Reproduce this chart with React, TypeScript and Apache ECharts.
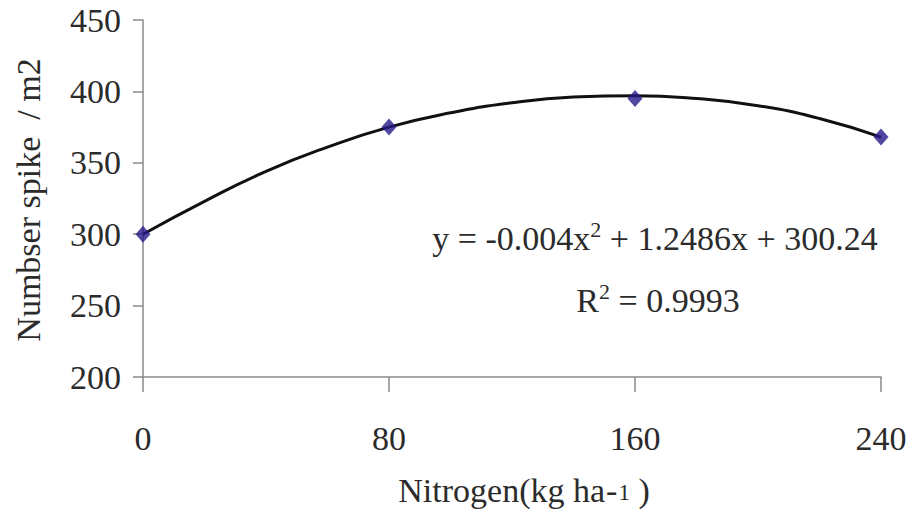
import React, { useEffect, useRef } from "react";
import * as echarts from "echarts";

const xTicks = [0, 80, 160, 240];
const observedX = [0, 80, 160, 240];
const observedY = [300, 375, 395, 368];
const curveX = [0, 20, 40, 60, 80, 100, 120, 140, 160, 180, 200, 220, 240];
const curveY = [300, 323, 344, 361, 375, 385, 392, 396, 397, 395, 390, 381, 368];
const yTitle = "Numbser spike  / m2";
const xTitle = "Nitrogen(kg ha";
const equationText = "y = -0.004x";
const equationRest = " + 1.2486x + 300.24";
const r2Value = " = 0.9993";

const FONT = "Liberation Serif";
const TXT = "#2b2b2b";

const n = { fontFamily: FONT, fontSize: 34, fill: TXT, color: TXT };
const sup = { fontFamily: FONT, fontSize: 22, fill: TXT, color: TXT, padding: [0, 0, 18, 0] };
const dash = { fontFamily: FONT, fontSize: 34, fill: TXT, color: TXT, padding: [0, 1, 0, 1] };
const sub = { fontFamily: FONT, fontSize: 23, fill: TXT, color: TXT, padding: [5, 0, 0, 0] };

export default function App() {
  const ref = useRef<HTMLDivElement>(null);
  useEffect(() => {
    if (!ref.current) return;
    const chart = echarts.init(ref.current, null, { renderer: "svg" });
    chart.setOption({
      animation: false,
      textStyle: { fontFamily: FONT },
      grid: { left: 143, right: 35, top: 20, bottom: 133 },
      xAxis: {
        type: "value",
        min: 0,
        max: 240,
        interval: 80,
        axisLine: { show: true, lineStyle: { color: "#8a8a8a", width: 1.5 } },
        axisTick: { show: true, length: 15, lineStyle: { color: "#8a8a8a", width: 1.5 } },
        splitLine: { show: false },
        axisLabel: {
          margin: 44,
          fontFamily: FONT,
          fontSize: 34,
          color: TXT,
          formatter: (v: number) => (xTicks.includes(v) ? String(v) : ""),
        },
      },
      yAxis: {
        type: "value",
        min: 200,
        max: 450,
        interval: 50,
        axisLine: { show: true, lineStyle: { color: "#8a8a8a", width: 1.5 } },
        axisTick: { show: true, length: 10, lineStyle: { color: "#8a8a8a", width: 1.5 } },
        splitLine: { show: false },
        axisLabel: { margin: 22, fontFamily: FONT, fontSize: 34, color: TXT },
      },
      series: [
        {
          type: "line",
          data: curveX.map((x, i) => [x, curveY[i]]),
          smooth: 0.5,
          showSymbol: false,
          symbol: "none",
          lineStyle: { color: "#111", width: 3 },
          z: 2,
        },
        {
          type: "scatter",
          data: observedX.map((x, i) => [x, observedY[i]]),
          symbol: "diamond",
          symbolSize: [15, 17],
          itemStyle: { color: "#26198a" },
          z: 3,
        },
      ],
      graphic: [
        {
          type: "text",
          x: 28,
          y: 200,
          rotation: Math.PI / 2,
          style: {
            text: yTitle,
            fontFamily: FONT,
            fontSize: 34,
            fill: TXT,
            align: "center",
            verticalAlign: "middle",
          },
        },
        {
          type: "text",
          x: 524,
          y: 490,
          style: {
            text: `{n|${xTitle}}{d|-}{s|1}{n| )}`,
            rich: { n, d: dash, s: sub },
            fontFamily: FONT,
            fontSize: 34,
            fill: TXT,
            align: "center",
            verticalAlign: "middle",
          },
        },
        {
          type: "text",
          x: 655,
          y: 238,
          style: {
            text: `{n|${equationText}}{sup|2}{n|${equationRest}}`,
            rich: { n, sup },
            fontFamily: FONT,
            fontSize: 34,
            fill: TXT,
            align: "center",
            verticalAlign: "middle",
          },
        },
        {
          type: "text",
          x: 658,
          y: 300,
          style: {
            text: `{n|R}{sup|2}{n|${r2Value}}`,
            rich: { n, sup },
            fontFamily: FONT,
            fontSize: 34,
            fill: TXT,
            align: "center",
            verticalAlign: "middle",
          },
        },
      ],
    });
    return () => chart.dispose();
  }, []);
  return <div ref={ref} style={{ width: 916, height: 510, marginLeft: -8, marginTop: -8 }} />;
}
